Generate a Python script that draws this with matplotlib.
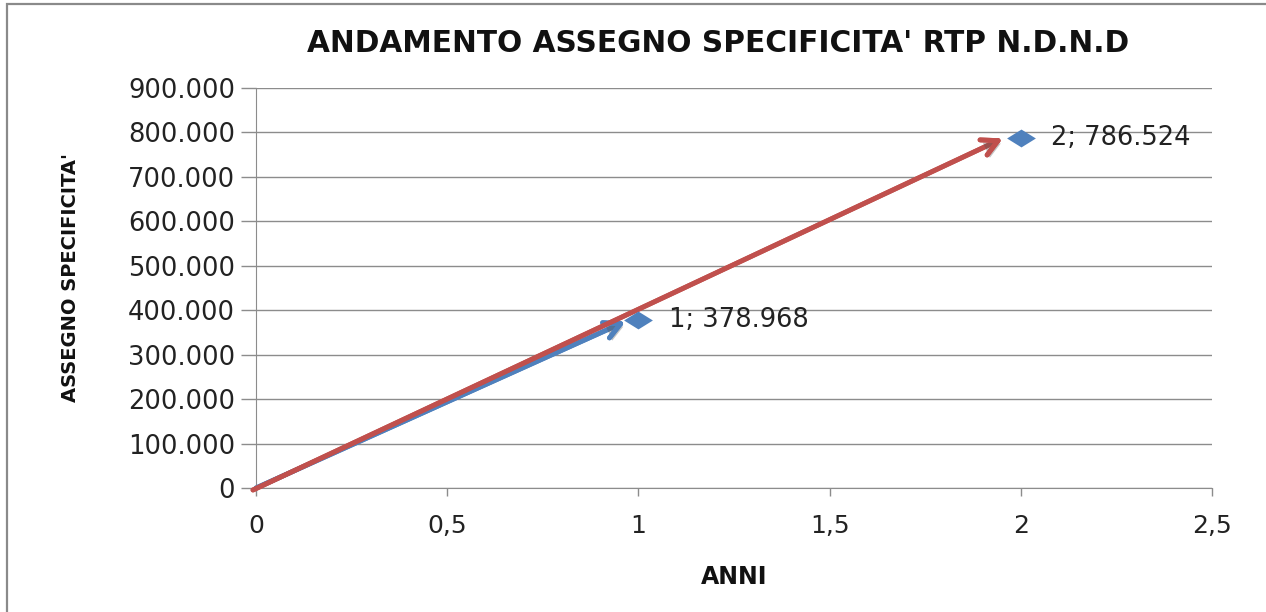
import matplotlib
matplotlib.use("Agg")
import matplotlib.pyplot as plt
from matplotlib.ticker import FuncFormatter, MultipleLocator
import matplotlib.patheffects as pe
import matplotlib.transforms as mtransforms
from matplotlib.patches import Rectangle
from matplotlib.path import Path

# ---- data ----
anni = [0, 1, 2]
assegno = [0, 378968, 786524]
labels = ["1; 378.968", "2; 786.524"]
title = "ANDAMENTO ASSEGNO SPECIFICITA' RTP N.D.N.D"
xlabel = "ANNI"
ylabel = "ASSEGNO SPECIFICITA'"

BLUE = "#4F81BD"
RED = "#C0504D"
GRID = "#8C8C8C"

fig = plt.figure(figsize=(12.66, 6.12), dpi=100)
ax = fig.add_axes([256/1266, 1-488/612, (1212-256)/1266, (488-88)/612])

# frame border (top/left visible)
fig.patches.append(Rectangle((6.5/1266, -0.1), 1.2, 1 - 3.5/612 + 0.1,
                             transform=fig.transFigure, fill=False,
                             edgecolor="#8a8a8a", linewidth=1.6))

ax.set_xlim(0, 2.5)
ax.set_ylim(0, 900000)
ax.xaxis.set_major_locator(MultipleLocator(0.5))
ax.yaxis.set_major_locator(MultipleLocator(100000))

def yfmt(v, pos):
    return "0" if v == 0 else f"{int(round(v)):,}".replace(",", ".")

def xfmt(v, pos):
    return f"{v:g}".replace(".", ",")

ax.yaxis.set_major_formatter(FuncFormatter(yfmt))
ax.xaxis.set_major_formatter(FuncFormatter(xfmt))

ax.grid(axis="y", color=GRID, linewidth=1.0)
ax.set_axisbelow(True)
for s in ["top", "right"]:
    ax.spines[s].set_visible(False)
ax.spines["left"].set_color(GRID)
ax.spines["bottom"].set_color(GRID)
ax.tick_params(axis="y", length=11, color=GRID, width=1.0, pad=4,
               labelsize=18.5, labelcolor="#222222")
ax.tick_params(axis="x", length=6, color=GRID, width=1.0, pad=13,
               labelsize=18, labelcolor="#222222")

# wide diamond marker
diamond = Path([(-1, 0), (0, 0.62), (1, 0), (0, -0.62), (-1, 0)],
               [Path.MOVETO, Path.LINETO, Path.LINETO, Path.LINETO, Path.CLOSEPOLY])
ax.scatter(anni[1:], assegno[1:], marker=diamond, s=430, color=BLUE, zorder=5,
           linewidths=0)

shadow = [pe.withSimplePatchShadow(offset=(2, -2), alpha=0.35, shadow_rgbFace="#555555"),
          pe.Normal()]

def px_off(dx, dy):
    return ax.transData + mtransforms.ScaledTranslation(dx/100, dy/100, fig.dpi_scale_trans)

astyle = "->,head_length=1.15,head_width=0.6"
# blue arrow from origin to first point
ax.annotate("", xy=(anni[1], assegno[1]), xycoords=px_off(-13, -2),
            xytext=(anni[0], assegno[0]), textcoords="data",
            arrowprops=dict(arrowstyle=astyle, color=BLUE, lw=3.5,
                            shrinkA=0, shrinkB=0, path_effects=shadow),
            zorder=3)
# red arrow from origin to second point
ax.annotate("", xy=(anni[2], assegno[2]), xycoords=px_off(-18, 0),
            xytext=(anni[0], assegno[0]), textcoords=px_off(-3, -2),
            arrowprops=dict(arrowstyle=astyle, color=RED, lw=3.5,
                            shrinkA=0, shrinkB=0, path_effects=shadow),
            zorder=4)

# data labels
for xv, yv, lab in zip(anni[1:], assegno[1:], labels):
    ax.annotate(lab, xy=(xv, yv), xytext=(22, 0), textcoords="offset points",
                ha="left", va="center", fontsize=18.5, color="#222222", zorder=6)

fig.text(718/1266, 1-44/612, title, ha="center", va="center",
         fontsize=21.3, fontweight="bold", color="#111111")
fig.text(734/1266, 1-577/612, xlabel, ha="center", va="center",
         fontsize=17, fontweight="bold", color="#111111")
fig.text(71/1266, 1-278/612, ylabel, ha="center", va="center", rotation=90,
         fontsize=14, fontweight="bold", color="#111111")

fig.savefig("out.png", dpi=100)
